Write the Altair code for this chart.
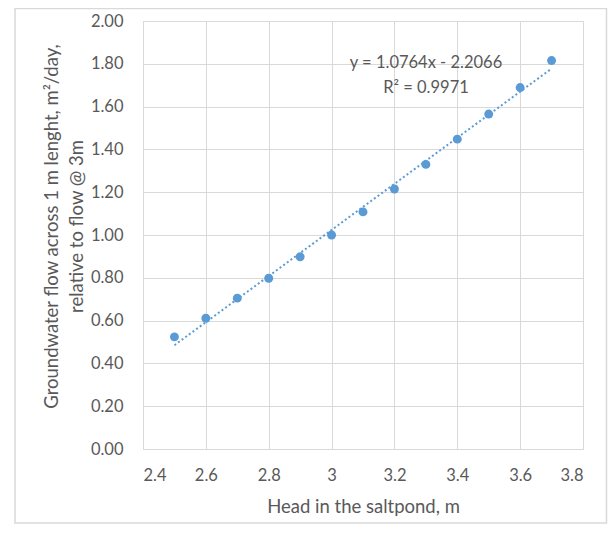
import altair as alt
import pandas as pd

# Data
head = [2.5, 2.6, 2.7, 2.8, 2.9, 3.0, 3.1, 3.2, 3.3, 3.4, 3.5, 3.6, 3.7]
flow = [0.524, 0.611, 0.705, 0.798, 0.898, 1.000, 1.108, 1.215, 1.330, 1.448, 1.565, 1.689, 1.815]
x_ticks = [2.4, 2.6, 2.8, 3.0, 3.2, 3.4, 3.6, 3.8]
y_ticks = [0.0, 0.2, 0.4, 0.6, 0.8, 1.0, 1.2, 1.4, 1.6, 1.8, 2.0]
equation_lines = ["y = 1.0764x - 2.2066", "R² = 0.9971"]
x_title = "Head in the saltpond, m"
y_title = ["Groundwater flow across 1 m lenght, m²/day,", "relative to flow @ 3m"]

df = pd.DataFrame({"x": head, "y": flow})

FONT = "Lato"
TXT = "#595959"
GRID = "#d9d9d9"
BLUE = "#5B9BD5"

x_enc = alt.X("x:Q", scale=alt.Scale(domain=[2.4, 3.8], nice=False, zero=False),
              axis=alt.Axis(values=x_ticks, format="~g", title=x_title,
                            titleY=57, titleBaseline="middle", titleFontWeight="normal",
                            labelPadding=18, grid=True))
y_enc = alt.Y("y:Q", scale=alt.Scale(domain=[0, 2], nice=False),
              axis=alt.Axis(values=y_ticks, format=".2f", title=y_title,
                            titleX=-92, titleY=205, titleBaseline="middle", titleAlign="center",
                            titleLineHeight=25, titleFontWeight="normal",
                            labelPadding=20, grid=True))

base = alt.Chart(df)

points = base.mark_circle(size=80, color=BLUE, opacity=1).encode(x=x_enc, y=y_enc)

trend = base.transform_regression("x", "y", extent=[2.5, 3.7]).mark_line(
    color=BLUE, strokeWidth=2, strokeDash=[2, 2.5]
).encode(x="x:Q", y="y:Q")

ann = alt.Chart(alt.Data(values=[{"t": equation_lines}])).mark_text(
    font=FONT, fontSize=16.5, color=TXT, align="center", baseline="middle", lineHeight=25
).encode(x=alt.value(283), y=alt.value(42), text="t:N")

border = alt.Chart(alt.Data(values=[{}])).mark_rect(
    fill="transparent", stroke=GRID, strokeWidth=1.5
).encode(x=alt.value(-128), x2=alt.value(463.5), y=alt.value(-12.5), y2=alt.value(502))

chart = alt.layer(border, trend, points, ann).properties(
    width=440, height=428,
    autosize=alt.AutoSizeParams(type="none"),
    padding={"left": 135, "top": 13, "right": 25, "bottom": 75},
).configure_view(stroke=GRID).configure_axis(
    labelFont=FONT, titleFont=FONT, labelFontSize=16.5, titleFontSize=18.5,
    labelColor=TXT, titleColor=TXT, gridColor=GRID, gridWidth=1,
    domainColor=GRID, domainWidth=1, ticks=False,
)

chart.save("out.html", embed_options={"renderer": "svg", "actions": False})
